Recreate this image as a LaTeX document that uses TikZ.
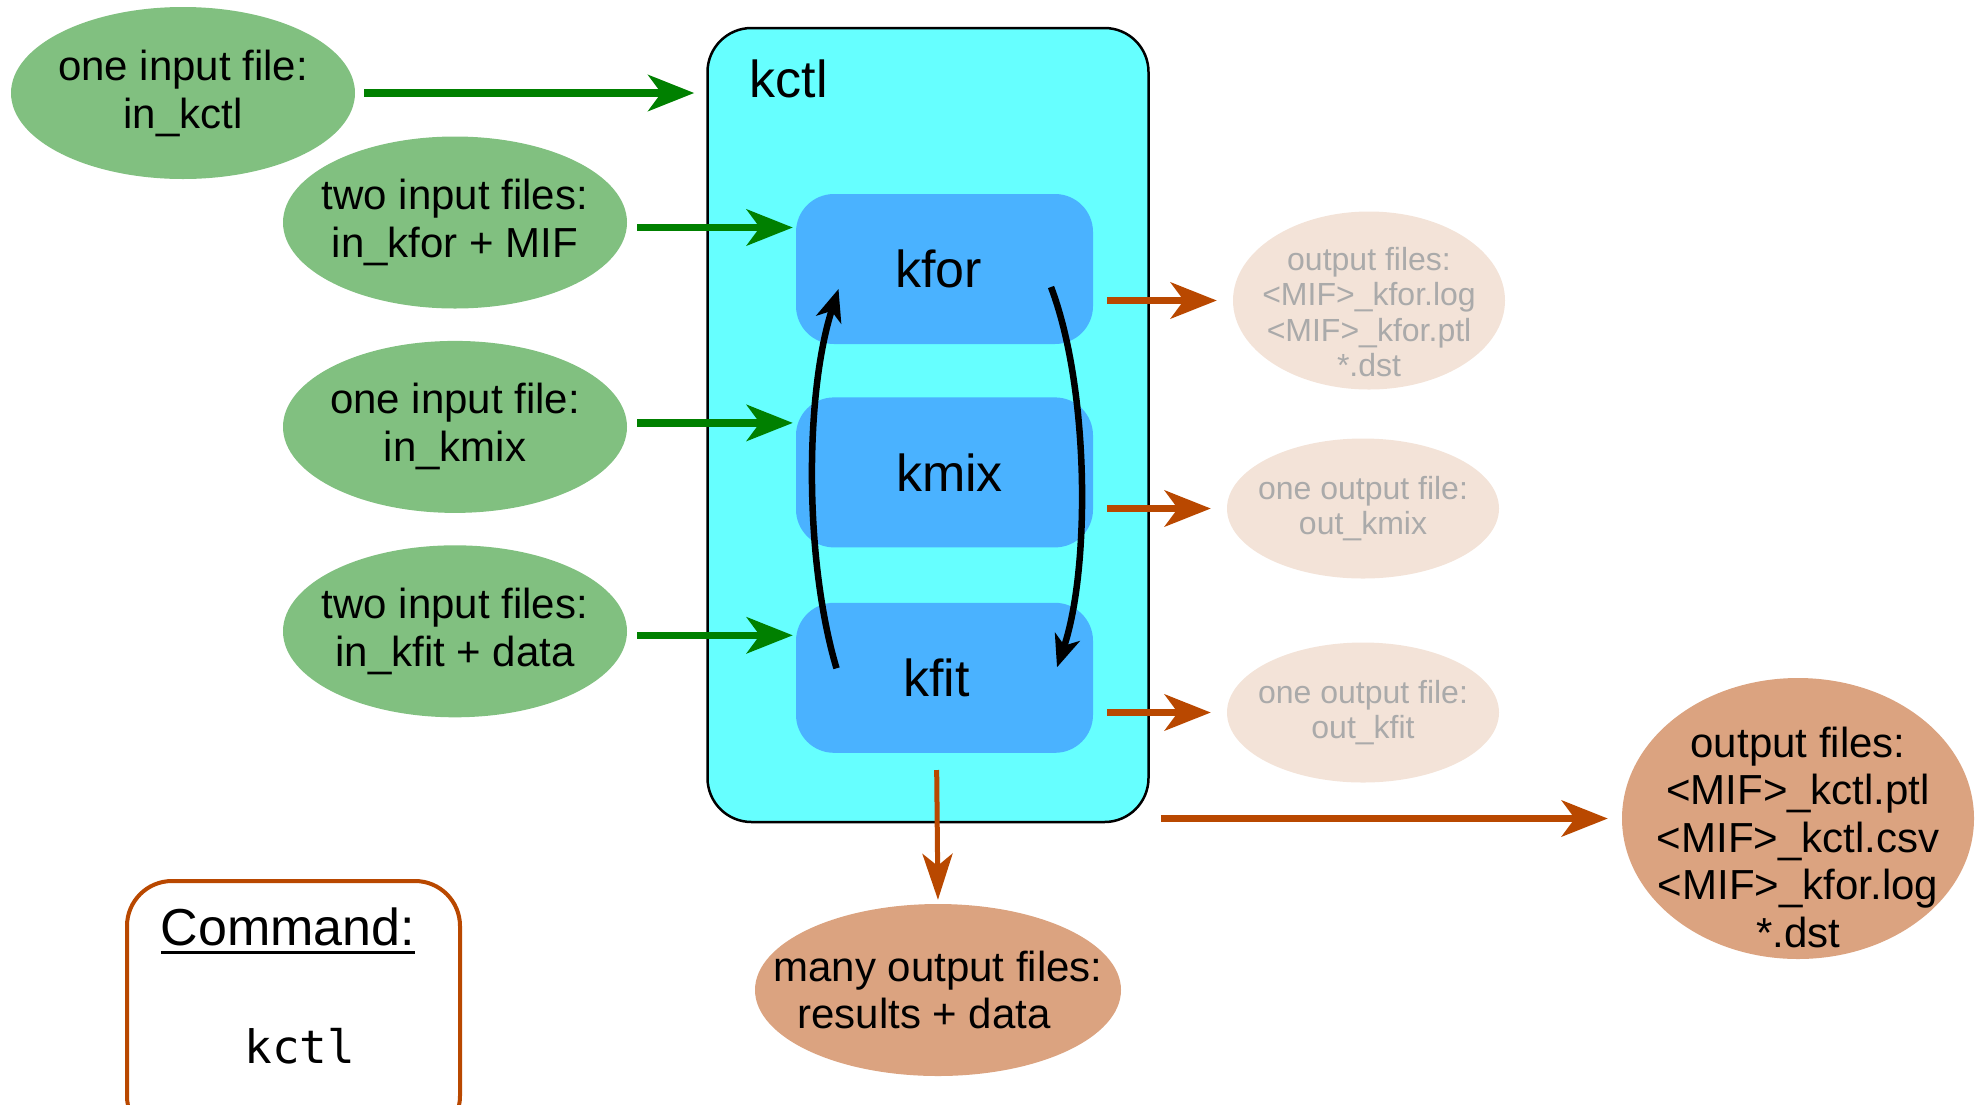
\documentclass[tikz,border=0pt]{standalone}
\usepackage{fontspec}
\setmainfont{Liberation Sans}
\setmonofont{DejaVu Sans Mono}
\usepackage{xcolor}
\usetikzlibrary{positioning,arrows.meta,calc,shapes.geometric}

\definecolor{ingreen}{RGB}{129,192,128}
\definecolor{arrowgreen}{RGB}{0,128,0}
\definecolor{kctlcyan}{RGB}{102,255,255}
\definecolor{kblue}{RGB}{74,178,255}
\definecolor{outorange}{RGB}{185,72,0}
\definecolor{outlight}{RGB}{243,227,216}
\definecolor{outgray}{RGB}{170,170,170}
\definecolor{outdark}{RGB}{219,163,128}

\newcommand{\cmdul}[1]{\setbox0\hbox{#1}\rlap{\rule[-8pt]{\wd0}{3pt}}\box0}

\begin{document}
\begin{tikzpicture}[
    x=1pt, y=-1pt,
    inell/.style={ellipse, fill=ingreen, minimum width=344pt, minimum height=172pt,
                  inner xsep=-12pt, inner ysep=0pt, align=center,
                  font=\fontsize{42}{48}\selectfont},
    faint/.style={ellipse, fill=outlight, text=outgray, minimum width=272pt,
                  minimum height=140pt, inner xsep=-12pt, inner ysep=-16pt,
                  align=center, font=\fontsize{32}{35.5}\selectfont},
    outell/.style={ellipse, fill=outdark, inner xsep=-18pt, inner ysep=-35pt,
                   align=center, font=\fontsize{42}{47.5}\selectfont},
    prog/.style={draw, rectangle, rounded corners=44pt, line width=2.5pt,
                 fill=kctlcyan, minimum width=441pt, minimum height=794pt},
    kbox/.style={rectangle, rounded corners=38pt, fill=kblue, minimum width=297pt,
                 minimum height=150pt, font=\fontsize{52}{60}\selectfont},
    cmdbox/.style={draw=outorange, rectangle, rounded corners=45pt, line width=4pt,
                   fill=white, minimum width=333pt, minimum height=260pt},
    lbl/.style={inner sep=0pt, font=\fontsize{52}{60}\selectfont},
    inar/.style={-{Stealth[length=46pt,width=36pt,inset=13pt]}, line width=7.5pt,
                 draw=arrowgreen},
    outar/.style={-{Stealth[length=46pt,width=36pt,inset=13pt]}, line width=7.5pt,
                  draw=outorange},
    downar/.style={-{Stealth[length=46pt,width=30pt,inset=12pt]}, line width=5pt,
                   draw=outorange},
    cyc/.style={-{Stealth[length=32pt,width=26pt,inset=9pt]}, line width=6.5pt},
]
\useasboundingbox (0,0) rectangle (1988,1104);

\node[prog] (kctl) at (928,425) {};
\node[lbl, anchor=west] (kctllbl) at ([shift={(43.5,52.5)}]kctl.north west) {kctl};

\node[kbox] (kfor) at (944.5,269) {\hspace*{-12pt}kfor};
\node[kbox, below=53pt of kfor] (kmix) {\hspace*{10pt}kmix};
\node[kbox, below=55pt of kmix] (kfit) {\hspace*{-16pt}kfit};

\node[inell] (inkctl) at (183,93) {one input file:\\in\_kctl};
\node[inell] (infor) at (455,222.5) {two input files:\\in\_kfor + MIF};
\node[inell, below=32pt of infor] (inmix) {one input file:\\in\_kmix};
\node[inell, below=32pt of inmix] (infit) {two input files:\\in\_kfit + data};

\node[faint, minimum height=178pt, text height=153pt] (outfor) at (1369,300.5)
    {output files:\\<MIF>\_kfor.log\\<MIF>\_kfor.ptl\\*.dst};
\node[faint] (outmix) at (1363,508.5) {one output file:\\out\_kmix};
\node[faint] (outfit) at (1363,712.5) {one output file:\\out\_kfit};

\node[outell, minimum width=352pt, minimum height=281pt, text height=258pt] (outall)
    at (1798,818.5)
    {output files:\\<MIF>\_kctl.ptl\\<MIF>\_kctl.csv\\<MIF>\_kfor.log\\*.dst};
\node[outell, minimum width=366pt, minimum height=172pt, inner xsep=-36pt,
      inner ysep=0pt] (outmany) at (938,990)
    {many output files:\\results + data\makebox[28pt]{}};

\node[cmdbox] (cmd) at (293.5,1011) {};
\node[lbl] (cmdtitle) at (288,931) {\cmdul{Command:}};
\node[inner sep=0pt, font=\fontsize{46}{52}\selectfont\ttfamily] (cmdname)
    at (300,1046) {kctl};

\draw[inar, shorten <=9pt, shorten >=12pt] (inkctl.east) -- (inkctl.east -| kctl.west);
\draw[inar, shorten <=10pt, shorten >=3pt] ([yshift=-5pt]infor.east) -- ([yshift=-5pt]infor.east -| kfor.west);
\draw[inar, shorten <=10pt, shorten >=3pt] ([yshift=4pt]inmix.east) -- ([yshift=4pt]inmix.east -| kmix.west);
\draw[inar, shorten <=10pt, shorten >=3pt] ([yshift=-4pt]infit.east) -- ([yshift=-4pt]infit.east -| kfit.west);

\draw[outar, shorten <=14pt, shorten >=16pt] (kfor.east |- outfor.west) -- (outfor.west);
\draw[outar, shorten <=14pt, shorten >=16pt] (kmix.east |- outmix.west) -- (outmix.west);
\draw[outar, shorten <=14pt, shorten >=16pt] (kfit.east |- outfit.west) -- (outfit.west);
\draw[outar, shorten <=11pt, shorten >=14pt] (kctl.east |- outall.west) -- (outall.west);
\draw[downar, shorten <=17pt, shorten >=4pt] ([xshift=-8pt]kfit.south) -- (outmany.north);

\draw[cyc] ([shift={(-108,-9.5)}]kfit.center)
    .. controls ([shift={(-140,-117)}]kfit.center) and ([shift={(-140,126)}]kfor.center)
    .. ([shift={(-106,20)}]kfor.center);
\draw[cyc] ([shift={(106.5,18)}]kfor.center)
    .. controls ([shift={(145.5,121)}]kfor.center) and ([shift={(145.5,-107.5)}]kfit.center)
    .. ([shift={(112.5,-10.5)}]kfit.center);
\end{tikzpicture}
\end{document}
